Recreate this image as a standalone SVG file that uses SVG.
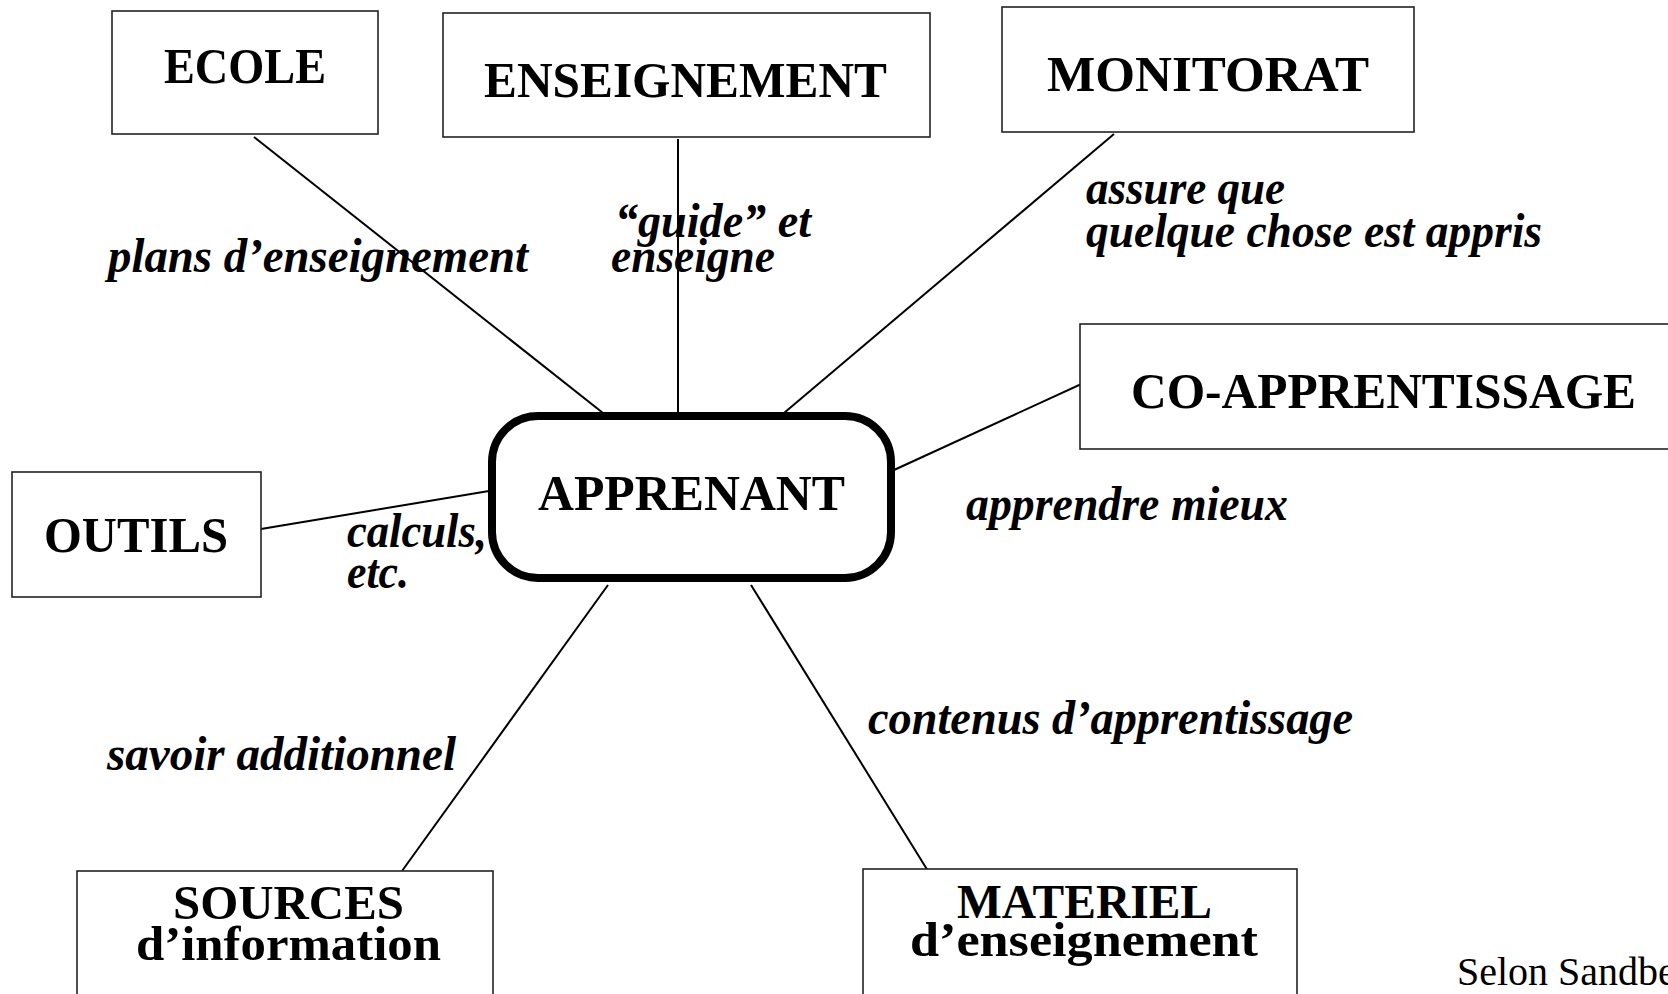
<svg xmlns="http://www.w3.org/2000/svg" width="1668" height="994" viewBox="0 0 1668 994">
  <style>
    .box { fill: #fff; stroke: #222; stroke-width: 1.6; }
    .hub { fill: #fff; stroke: #000; stroke-width: 8; }
    .link { stroke: #000; stroke-width: 2; fill: none; }
    .title { font-family: "Liberation Serif", "Times New Roman", serif; font-weight: bold; font-size: 50px; fill: #000; }
    .sub { font-family: "Liberation Serif", "Times New Roman", serif; font-weight: bold; font-size: 48px; fill: #000; }
    .label { font-family: "Liberation Serif", "Times New Roman", serif; font-weight: bold; font-style: italic; font-size: 48px; fill: #000; }
    .credit { font-family: "Liberation Serif", "Times New Roman", serif; font-size: 40px; fill: #000; }
  </style>
  <rect width="1668" height="994" fill="#fff"/>

  <!-- spokes from the central learner node -->
  <g id="connectors">
    <line class="link" x1="254" y1="137" x2="603" y2="413"/>
    <line class="link" x1="678" y1="139" x2="678" y2="413"/>
    <line class="link" x1="1114" y1="134" x2="784" y2="413"/>
    <line class="link" x1="1101" y1="375" x2="894" y2="470"/>
    <line class="link" x1="261" y1="529" x2="489" y2="491"/>
    <line class="link" x1="608" y1="585" x2="402" y2="871"/>
    <line class="link" x1="751" y1="585" x2="928" y2="871"/>
  </g>

  <!-- spoke labels -->
  <g id="labels">
    <text class="label" x="108" y="272" textLength="420" lengthAdjust="spacingAndGlyphs">plans d’enseignement</text>
    <text class="label" x="615" y="237" textLength="196" lengthAdjust="spacingAndGlyphs">“guide” et</text>
    <text class="label" x="611" y="272" textLength="164" lengthAdjust="spacingAndGlyphs">enseigne</text>
    <text class="label" x="1086" y="204" textLength="199" lengthAdjust="spacingAndGlyphs">assure que</text>
    <text class="label" x="1086" y="247" textLength="456" lengthAdjust="spacingAndGlyphs">quelque chose est appris</text>
    <text class="label" x="966" y="520" textLength="322" lengthAdjust="spacingAndGlyphs">apprendre mieux</text>
    <text class="label" x="347" y="547" textLength="140" lengthAdjust="spacingAndGlyphs">calculs,</text>
    <text class="label" x="347" y="588" textLength="62" lengthAdjust="spacingAndGlyphs">etc.</text>
    <text class="label" x="107" y="770" textLength="349" lengthAdjust="spacingAndGlyphs">savoir additionnel</text>
    <text class="label" x="868" y="734" textLength="485" lengthAdjust="spacingAndGlyphs">contenus d’apprentissage</text>
  </g>

  <g id="ecole">
    <rect class="box" x="112" y="11" width="266" height="123"/>
    <text class="title" x="164" y="83" textLength="162" lengthAdjust="spacingAndGlyphs">ECOLE</text>
  </g>

  <g id="enseignement">
    <rect class="box" x="443" y="13" width="487" height="124"/>
    <text class="title" x="484" y="97" textLength="403" lengthAdjust="spacingAndGlyphs">ENSEIGNEMENT</text>
  </g>

  <g id="monitorat">
    <rect class="box" x="1002" y="7" width="412" height="125"/>
    <text class="title" x="1047" y="91" textLength="322" lengthAdjust="spacingAndGlyphs">MONITORAT</text>
  </g>

  <g id="co-apprentissage">
    <rect class="box" x="1080" y="324" width="620" height="125"/>
    <text class="title" x="1131" y="408" textLength="505" lengthAdjust="spacingAndGlyphs">CO-APPRENTISSAGE</text>
  </g>

  <g id="outils">
    <rect class="box" x="12" y="472" width="249" height="125"/>
    <text class="title" x="44" y="552" textLength="184" lengthAdjust="spacingAndGlyphs">OUTILS</text>
  </g>

  <g id="apprenant">
    <rect class="hub" x="492" y="416" width="399" height="162" rx="46" ry="46"/>
    <text class="title" x="538" y="510" textLength="307" lengthAdjust="spacingAndGlyphs">APPRENANT</text>
  </g>

  <g id="sources">
    <rect class="box" x="77" y="871" width="416" height="140"/>
    <text class="sub" x="173" y="919" textLength="231" lengthAdjust="spacingAndGlyphs">SOURCES</text>
    <text class="sub" x="136" y="960" textLength="305" lengthAdjust="spacingAndGlyphs">d’information</text>
  </g>

  <g id="materiel">
    <rect class="box" x="863" y="869" width="434" height="140"/>
    <text class="sub" x="957" y="918" textLength="255" lengthAdjust="spacingAndGlyphs">MATERIEL</text>
    <text class="sub" x="910" y="956" textLength="348" lengthAdjust="spacingAndGlyphs">d’enseignement</text>
  </g>

  <text class="credit" x="1457" y="985">Selon Sandbe</text>
</svg>
